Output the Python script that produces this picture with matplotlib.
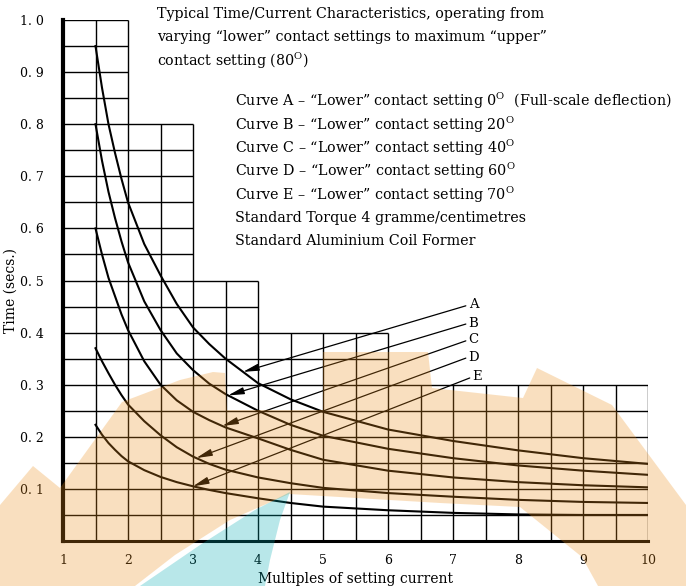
import matplotlib

matplotlib.use("Agg")
import matplotlib.pyplot as plt
import numpy as np
from matplotlib.patches import Polygon

plt.rcParams["font.family"] = ["DejaVu Serif"]
plt.rcParams["mathtext.fontset"] = "custom"
plt.rcParams["mathtext.rm"] = "DejaVu Serif"

# --- data --------------------------------------------------------------------
multiples = [1.5, 1.6, 1.7, 1.8, 1.9, 2, 2.25, 2.5, 2.75, 3, 3.25, 3.5, 4, 4.5, 5, 6, 7, 8, 9, 10]
curve_a = [0.95, 0.87, 0.80, 0.745, 0.695, 0.65, 0.57, 0.51, 0.455, 0.41, 0.378, 0.35,
           0.303, 0.272, 0.248, 0.214, 0.192, 0.174, 0.159, 0.148]
curve_b = [0.80, 0.73, 0.67, 0.62, 0.575, 0.535, 0.46, 0.405, 0.36, 0.328, 0.302, 0.282,
           0.25, 0.223, 0.202, 0.177, 0.159, 0.145, 0.135, 0.127]
curve_c = [0.60, 0.55, 0.505, 0.47, 0.435, 0.405, 0.345, 0.30, 0.27, 0.248, 0.232, 0.218,
           0.197, 0.175, 0.156, 0.135, 0.122, 0.113, 0.107, 0.103]
curve_d = [0.37, 0.345, 0.322, 0.30, 0.28, 0.262, 0.23, 0.203, 0.18, 0.162, 0.148, 0.137,
           0.122, 0.111, 0.102, 0.092, 0.085, 0.079, 0.075, 0.073]
curve_e = [0.223, 0.204, 0.188, 0.175, 0.163, 0.153, 0.136, 0.123, 0.113, 0.105, 0.098, 0.092,
           0.082, 0.073, 0.066, 0.059, 0.054, 0.051, 0.050, 0.050]
curve_names = ["A", "B", "C", "D", "E"]

# stepped outline of the ruled area: column edges and the height of each block
step_edges = [1, 2, 3, 4, 6, 10]
step_tops = [1.0, 0.8, 0.5, 0.4, 0.3]

# where each leader arrow meets its curve, and where its letter sits
arrow_at = [3.77, 3.54, 3.45, 3.05, 3.0]
label_x = [7.24, 7.24, 7.24, 7.24, 7.30]
label_y = [0.453, 0.418, 0.386, 0.353, 0.315]

x_ticks = [1, 2, 3, 4, 5, 6, 7, 8, 9, 10]
y_ticks = [0.1, 0.2, 0.3, 0.4, 0.5, 0.6, 0.7, 0.8, 0.9, 1.0]

deg = "$^{\\mathrm{O}}$"
title_lines = [
    "Typical Time/Current Characteristics, operating from",
    "varying \u201clower\u201d contact settings to maximum \u201cupper\u201d",
    f"contact setting (80{deg})",
]
notes = [
    f"Curve A \u2013 \u201cLower\u201d contact setting 0{deg}  (Full-scale deflection)",
    f"Curve B \u2013 \u201cLower\u201d contact setting 20{deg}",
    f"Curve C \u2013 \u201cLower\u201d contact setting 40{deg}",
    f"Curve D \u2013 \u201cLower\u201d contact setting 60{deg}",
    f"Curve E \u2013 \u201cLower\u201d contact setting 70{deg}",
    "Standard Torque 4 gramme/centimetres",
    "Standard Aluminium Coil Former",
]

W, H = 686, 586
fig = plt.figure(figsize=(W / 100, H / 100), dpi=100)
ax = fig.add_axes([63 / W, 1 - 541 / H, (648 - 63) / W, (541 - 20) / H])
ax.set_xlim(1, 10)
ax.set_ylim(0, 1.0)

# ruled grid, clipped to the stepped outline
edges = np.array(step_edges, dtype=float)
tops = np.array(step_tops)


def top_at(x):
    left = tops[np.clip(np.searchsorted(edges, x, side="left") - 1, 0, len(tops) - 1)]
    right = tops[np.clip(np.searchsorted(edges, x, side="right") - 1, 0, len(tops) - 1)]
    return max(left, right)


for x in np.arange(1.5, 10.01, 0.5):
    ax.vlines(x, 0, top_at(x), color="black", lw=1.0)
for y in np.arange(0.05, 1.001, 0.05):
    reach = max(edges[i + 1] for i in range(len(tops)) if tops[i] >= y - 1e-9)
    ax.hlines(y, 1, reach, color="black", lw=1.0)

curves = [curve_a, curve_b, curve_c, curve_d, curve_e]
for ys in curves:
    ax.plot(multiples, ys, color="black", lw=1.5, solid_joinstyle="round")

for name, ys, ax_x, lx, ly in zip(curve_names, curves, arrow_at, label_x, label_y):
    tip = (ax_x, np.interp(ax_x, multiples, ys))
    ax.annotate(name, xy=tip, xytext=(lx, ly), fontsize=9.5, ha="left", va="center",
                arrowprops=dict(arrowstyle="-|>,head_length=1.0,head_width=0.22",
                                color="black", lw=0.9, shrinkA=0, shrinkB=0,
                                relpos=(0, 0.5)))

for side in ["top", "right"]:
    ax.spines[side].set_visible(False)
ax.spines["left"].set_linewidth(3)
ax.spines["bottom"].set_linewidth(2.2)
ax.set_xticks(x_ticks)
ax.set_yticks(y_ticks)
ax.set_xticklabels([str(v) for v in x_ticks], fontsize=9)
ax.set_yticklabels([f"{v:.1f}".replace(".", ". ") for v in y_ticks], fontsize=9)
ax.tick_params(length=0, pad=9)
ax.tick_params(axis="y", pad=14)
ax.set_xlabel("Multiples of setting current", fontsize=10, labelpad=4)
ax.set_ylabel("Time (secs.)", fontsize=10)
ax.yaxis.set_label_coords(-0.077, 0.48)

for i, line in enumerate(title_lines):
    fig.text(157 / W, 1 - (14 + 23.5 * i) / H, line, fontsize=10.3, va="center")
for i, line in enumerate(notes):
    fig.text(235 / W, 1 - (101 + 23.4 * i) / H, line, fontsize=10.3, va="center")

# scanned-page watermark (peach wing and cyan swoosh), pixel outline
peach = [(0, 505), (33, 466), (60, 488), (122, 402), (180, 380), (213, 372), (225, 373),
         (227, 410), (323, 410), (323, 352), (428, 352), (432, 388), (523, 398), (537, 368),
         (612, 405), (686, 505), (686, 586), (598, 586), (582, 557), (520, 507), (440, 503),
         (289, 494), (230, 520), (175, 555), (135, 586), (0, 586)]
cyan = [(140, 586), (200, 545), (255, 510), (290, 492), (280, 520), (270, 560), (265, 586)]
for pts, col in [(peach, (0.93, 0.56, 0.11)), (cyan, (0.0, 0.67, 0.70))]:
    fig.patches.append(Polygon([(px / W, 1 - py / H) for px, py in pts], closed=True,
                               transform=fig.transFigure, facecolor=col, alpha=0.28,
                               edgecolor="none", zorder=10))

fig.savefig("out.png", dpi=100)
